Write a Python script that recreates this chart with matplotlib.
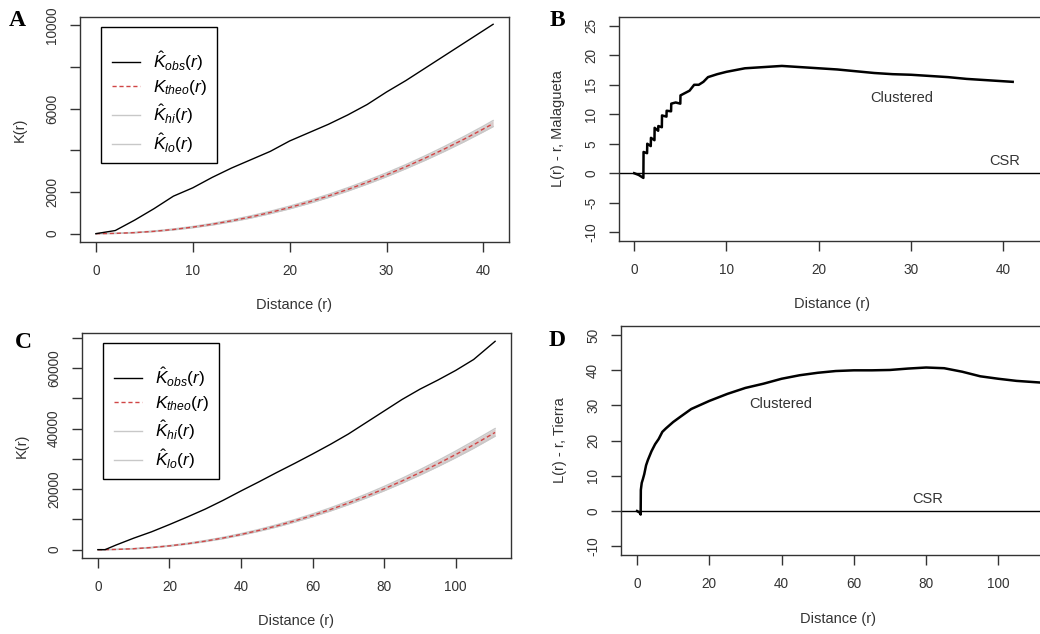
import matplotlib
matplotlib.use("Agg")
import matplotlib.pyplot as plt
from matplotlib.lines import Line2D
from matplotlib.patches import Rectangle

plt.rcParams['font.family'] = ['Liberation Sans', 'DejaVu Sans']
plt.rcParams['mathtext.fontset'] = 'custom'
plt.rcParams['mathtext.it'] = 'Liberation Sans:italic'
plt.rcParams['mathtext.rm'] = 'Liberation Sans'

# ---- panel A: Malagueta K function ----
r_a = [0, 2, 4, 6, 8, 10, 12, 14, 16, 18, 20, 22, 24, 26, 28, 30, 32, 34, 36, 38, 40, 41]
kobs_a = [0, 150, 650, 1200, 1800, 2200, 2700, 3150, 3550, 3950, 4450, 4850, 5250, 5700,
          6200, 6800, 7350, 7950, 8550, 9150, 9750, 10050]
ktheo_a = [0, 13, 50, 113, 201, 314, 452, 616, 804, 1018, 1257, 1521, 1810, 2124, 2463,
           2827, 3217, 3632, 4072, 4536, 5027, 5281]
khi_a = [0, 20, 62, 130, 225, 345, 490, 660, 855, 1075, 1320, 1590, 1885, 2205, 2550,
         2920, 3315, 3740, 4190, 4665, 5165, 5430]
klo_a = [0, 8, 40, 98, 180, 285, 415, 572, 752, 960, 1192, 1450, 1735, 2045, 2378,
         2735, 3120, 3525, 3955, 4410, 4890, 5140]

# ---- panel C: Tierra K function ----
r_c = [0, 2, 5, 10, 15, 20, 25, 30, 35, 40, 45, 50, 55, 60, 65, 70, 75, 80, 85, 90, 95,
       100, 105, 111]
kobs_c = [0, 0, 1500, 3800, 5900, 8300, 10800, 13400, 16300, 19400, 22400, 25500, 28500,
          31600, 34800, 38200, 42000, 45800, 49600, 53000, 56000, 59200, 62800, 68800]
ktheo_c = [0, 13, 79, 314, 707, 1257, 1963, 2827, 3848, 5027, 6362, 7854, 9503, 11310,
           13273, 15394, 17671, 20106, 22698, 25447, 28353, 31416, 34636, 38708]
khi_c = [0, 25, 110, 380, 800, 1380, 2120, 3020, 4080, 5300, 6680, 8230, 9930, 11800,
         13820, 16010, 18360, 20880, 23560, 26400, 29400, 32560, 35880, 40000]
klo_c = [0, 5, 55, 260, 630, 1150, 1820, 2650, 3640, 4780, 6070, 7510, 9110, 10870,
         12790, 14860, 17080, 19450, 21960, 24620, 27430, 30380, 33480, 37500]

# ---- panel B: Malagueta L(r) - r ----
r_b = [0, 0.5, 1.0, 1.02, 1.4, 1.42, 1.8, 1.82, 2.2, 2.22, 2.6, 2.62, 3.0, 3.02, 3.5,
       3.52, 4.0, 4.02, 4.5, 5.0, 5.02, 6, 6.5, 7, 7.5, 8, 9, 10, 11, 12, 14, 16, 18, 20,
       22, 24, 26, 28, 30, 32, 34, 36, 38, 40, 41]
l_b = [0, -0.3, -0.8, 3.6, 3.4, 5.0, 4.6, 6.0, 5.6, 7.7, 7.2, 8.0, 7.8, 9.8, 9.6, 10.6,
       10.5, 11.8, 12.0, 11.8, 13.2, 14.0, 15.0, 15.0, 15.5, 16.3, 16.8, 17.2, 17.5, 17.8,
       18.0, 18.2, 18.0, 17.8, 17.6, 17.3, 17.0, 16.8, 16.7, 16.5, 16.3, 16.0, 15.8,
       15.6, 15.5]

# ---- panel D: Tierra L(r) - r ----
r_d = [0, 0.8, 1.0, 1.05, 1.3, 1.6, 2, 2.5, 3, 4, 5, 6, 7, 8, 10, 12, 15, 20, 25, 30,
       35, 40, 45, 50, 55, 60, 65, 70, 75, 80, 85, 90, 95, 100, 105, 112]
l_d = [0, -0.5, -1, 6, 8, 9, 10.5, 13, 14.5, 17, 19, 20.5, 22.5, 23.5, 25.3, 26.8, 29,
       31.3, 33.3, 35, 36.2, 37.6, 38.6, 39.3, 39.8, 40, 40, 40.1, 40.5, 40.8, 40.6,
       39.6, 38.3, 37.6, 37, 36.5]

legend_labels = [r'$\hat{K}_{obs}(r)$', r'$K_{theo}(r)$', r'$\hat{K}_{hi}(r)$', r'$\hat{K}_{lo}(r)$']

W, H = 1040, 634
fig = plt.figure(figsize=(10.4, 6.34), dpi=100)
TXT = '#333333'


def px_axes(left, top, right, bottom):
    return fig.add_axes([left / W, 1 - bottom / H, (right - left) / W, (bottom - top) / H])


def style(ax, xticks, yticks, ylabels):
    for s in ax.spines.values():
        s.set_color(TXT)
        s.set_linewidth(1)
    ax.set_xticks(xticks)
    ax.set_yticks(yticks)
    ax.set_yticklabels(ylabels)
    ax.tick_params(direction='out', length=7, width=1, color=TXT,
                   labelsize=9.8, labelcolor=TXT, pad=9)
    ax.tick_params(axis='y', labelrotation=90, pad=8)
    for lab in ax.get_yticklabels():
        lab.set_va('center')


def labels(ax, ylab, yx):
    ax.set_ylabel(ylab, fontsize=10.5, color=TXT)
    ax.set_xlabel('Distance (r)', fontsize=10.5, color=TXT)
    ax.yaxis.set_label_coords(yx, 0.5)
    ax.xaxis.set_label_coords(0.5, -0.25)


def k_panel(ax, r, obs, theo, hi, lo):
    ax.fill_between(r, lo, hi, color='#d8cccc', lw=0)
    ax.plot(r, hi, color='#c8c8c8', lw=1)
    ax.plot(r, lo, color='#c8c8c8', lw=1)
    ax.plot(r, theo, color='#d04545', lw=1, ls=(0, (3, 2)))
    ax.plot(r, obs, color='black', lw=1)
    handles = [Line2D([], [], color='black', lw=1),
               Line2D([], [], color='#d04545', lw=1, ls=(0, (3, 2))),
               Line2D([], [], color='#c8c8c8', lw=1),
               Line2D([], [], color='#c8c8c8', lw=1)]
    # legend frame drawn by hand so the padding can match the R legend box
    ax.add_patch(Rectangle((0.049, 0.351), 0.270, 0.605, transform=ax.transAxes,
                           fill=True, facecolor='white', edgecolor='black', lw=1, zorder=4))
    leg = ax.legend(handles, legend_labels, loc='center left', bbox_to_anchor=(0.075, 0.622),
                    borderaxespad=0, borderpad=0, frameon=False, fontsize=12.5,
                    handlelength=1.6, labelspacing=0.3, handletextpad=0.75)
    leg.set_zorder(5)
    labels(ax, 'K(r)', -0.124)


# A
axA = px_axes(80, 17, 509, 242)
k_panel(axA, r_a, kobs_a, ktheo_a, khi_a, klo_a)
axA.set_xlim(-1.64, 42.64)
axA.set_ylim(-400, 10400)
style(axA, [0, 10, 20, 30, 40], [0, 2000, 4000, 6000, 8000, 10000],
      ['0', '2000', '', '6000', '', '10000'])

# C
axC = px_axes(82, 333, 511, 558)
k_panel(axC, r_c, kobs_c, ktheo_c, khi_c, klo_c)
axC.set_xlim(-4.44, 115.44)
axC.set_ylim(-2750, 71550)
style(axC, [0, 20, 40, 60, 80, 100], list(range(0, 70001, 10000)),
      ['0', '', '20000', '', '40000', '', '60000', ''])

# B
axB = px_axes(619, 17, 1045, 241)
axB.plot(r_b, l_b, color='black', lw=1.8)
axB.axhline(0, color='black', lw=1)
axB.set_xlim(-1.64, 44.5)
axB.set_ylim(-11.5, 26.5)
style(axB, [0, 10, 20, 30, 40], list(range(-10, 26, 5)), [str(v) for v in range(-10, 26, 5)])
axB.text(29.0, 12.7, 'Clustered', fontsize=10.5, color=TXT, ha='center', va='center')
axB.text(40.1, 2.0, 'CSR', fontsize=10.5, color=TXT, ha='center', va='center')
labels(axB, 'L(r) - r, Malagueta', -0.127)

# D
axD = px_axes(621, 326, 1054, 555)
axD.plot(r_d, l_d, color='black', lw=1.8)
axD.axhline(0, color='black', lw=1)
axD.set_xlim(-4.44, 115.4)
axD.set_ylim(-12.5, 52.6)
style(axD, [0, 20, 40, 60, 80, 100], list(range(-10, 51, 10)), [str(v) for v in range(-10, 51, 10)])
axD.text(39.8, 30.5, 'Clustered', fontsize=10.5, color=TXT, ha='center', va='center')
axD.text(80.5, 3.3, 'CSR', fontsize=10.5, color=TXT, ha='center', va='center')
labels(axD, 'L(r) - r, Tierra', -0.125)

# panel letters
for letter, x, y in [('A', 17, 20), ('B', 557, 20), ('C', 23, 342), ('D', 557, 340)]:
    fig.text(x / W, 1 - y / H, letter, fontsize=17, fontweight='bold',
             family='Liberation Serif', ha='center', va='center')

fig.savefig('out.png', dpi=100)
